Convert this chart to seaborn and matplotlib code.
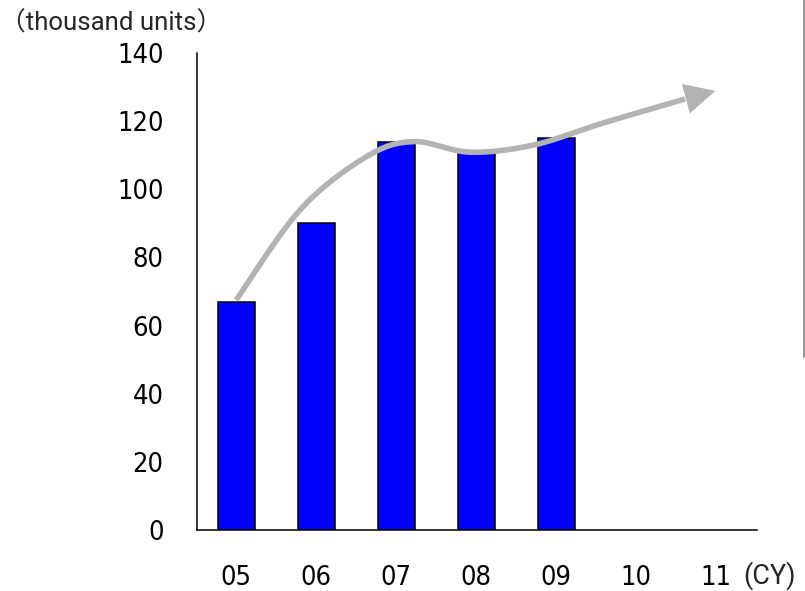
import numpy as np
import pandas as pd
import matplotlib
matplotlib.use("Agg")
import matplotlib.pyplot as plt
from matplotlib.lines import Line2D
import seaborn as sns

# Calendar years on the x axis (last two digits)
years = ["05", "06", "07", "08", "09", "10", "11"]
bar_years = ["05", "06", "07", "08", "09"]
units = [67, 90, 114, 111, 115]          # thousand units
y_ticks = [0, 20, 40, 60, 80, 100, 120, 140]

# Growth-trend arrow anchors (category position, thousand units)
trend_x = [0.0, 0.8, 1.63, 2.22, 2.92, 3.72, 4.55, 5.61]
trend_y = [67.5, 94.0, 109.6, 114.0, 110.9, 113.0, 119.2, 126.5]
trend_tip = (5.99, 128.9)

BAR_BLUE = "#0000FF"
TREND_GREY = "#b3b3b3"

sns.set_style("white")
plt.rcParams["font.family"] = ["DejaVu Sans"]
plt.rcParams["font.stretch"] = "condensed"
label_family = ["Roboto", "Noto Sans CJK JP"]

fig = plt.figure(figsize=(8.05, 5.91), dpi=100)
ax = fig.add_axes([197 / 805, 1 - 530 / 591, 560 / 805, 477 / 591])

df = pd.DataFrame({"year": bar_years, "units": units})
sns.barplot(data=df, x="year", y="units", order=years, color=BAR_BLUE,
            saturation=1, width=0.46, edgecolor="black", linewidth=1.1,
            ax=ax, zorder=2)


def catmull_rom(xs, ys, n=40):
    pts = np.column_stack([xs, ys]).astype(float)
    pts = np.vstack([pts[0], pts, pts[-1]])
    segs = []
    t = np.linspace(0, 1, n, endpoint=False)[:, None]
    for i in range(1, len(pts) - 2):
        p0, p1, p2, p3 = pts[i - 1], pts[i], pts[i + 1], pts[i + 2]
        seg = 0.5 * (2 * p1 + (-p0 + p2) * t
                     + (2 * p0 - 5 * p1 + 4 * p2 - p3) * t ** 2
                     + (-p0 + 3 * p1 - 3 * p2 + p3) * t ** 3)
        segs.append(seg)
    segs.append(pts[-2][None])
    return np.vstack(segs)


curve = catmull_rom(trend_x, trend_y)
ax.plot(curve[:, 0], curve[:, 1], color=TREND_GREY, lw=4,
        solid_capstyle="butt", zorder=3)
ax.annotate("", xy=trend_tip, xytext=(trend_x[-1], trend_y[-1]),
            arrowprops=dict(arrowstyle="-|>,head_length=1.1,head_width=0.55",
                            mutation_scale=20, color=TREND_GREY, lw=0,
                            shrinkA=0, shrinkB=0),
            zorder=4)

ax.set_xlim(-0.49, 6.51)
ax.set_ylim(0, 140)
ax.set_yticks(y_ticks)
ax.set_xlabel("")
ax.set_ylabel("")

for side in ["top", "right"]:
    ax.spines[side].set_visible(False)
for side in ["left", "bottom"]:
    ax.spines[side].set_color("black")
    ax.spines[side].set_linewidth(1.1)

ax.tick_params(axis="y", direction="in", length=8, width=1.1, pad=24,
               labelsize=19.5, colors="black")
ax.tick_params(axis="x", length=0, pad=25, labelsize=19.5, colors="black")

fig.text(0 / 805, 1 - 23 / 591, "（thousand units）", family=label_family,
         fontsize=18.5, va="center", ha="left")
fig.text(743 / 805, 1 - 576 / 591, "(CY)", family=label_family,
         fontsize=19.5, va="center", ha="left")

fig.add_artist(Line2D([804.3 / 805] * 2, [1, 1 - 357 / 591], color="#808080",
                      lw=1.2, transform=fig.transFigure))

fig.savefig("out.png", dpi=100)
